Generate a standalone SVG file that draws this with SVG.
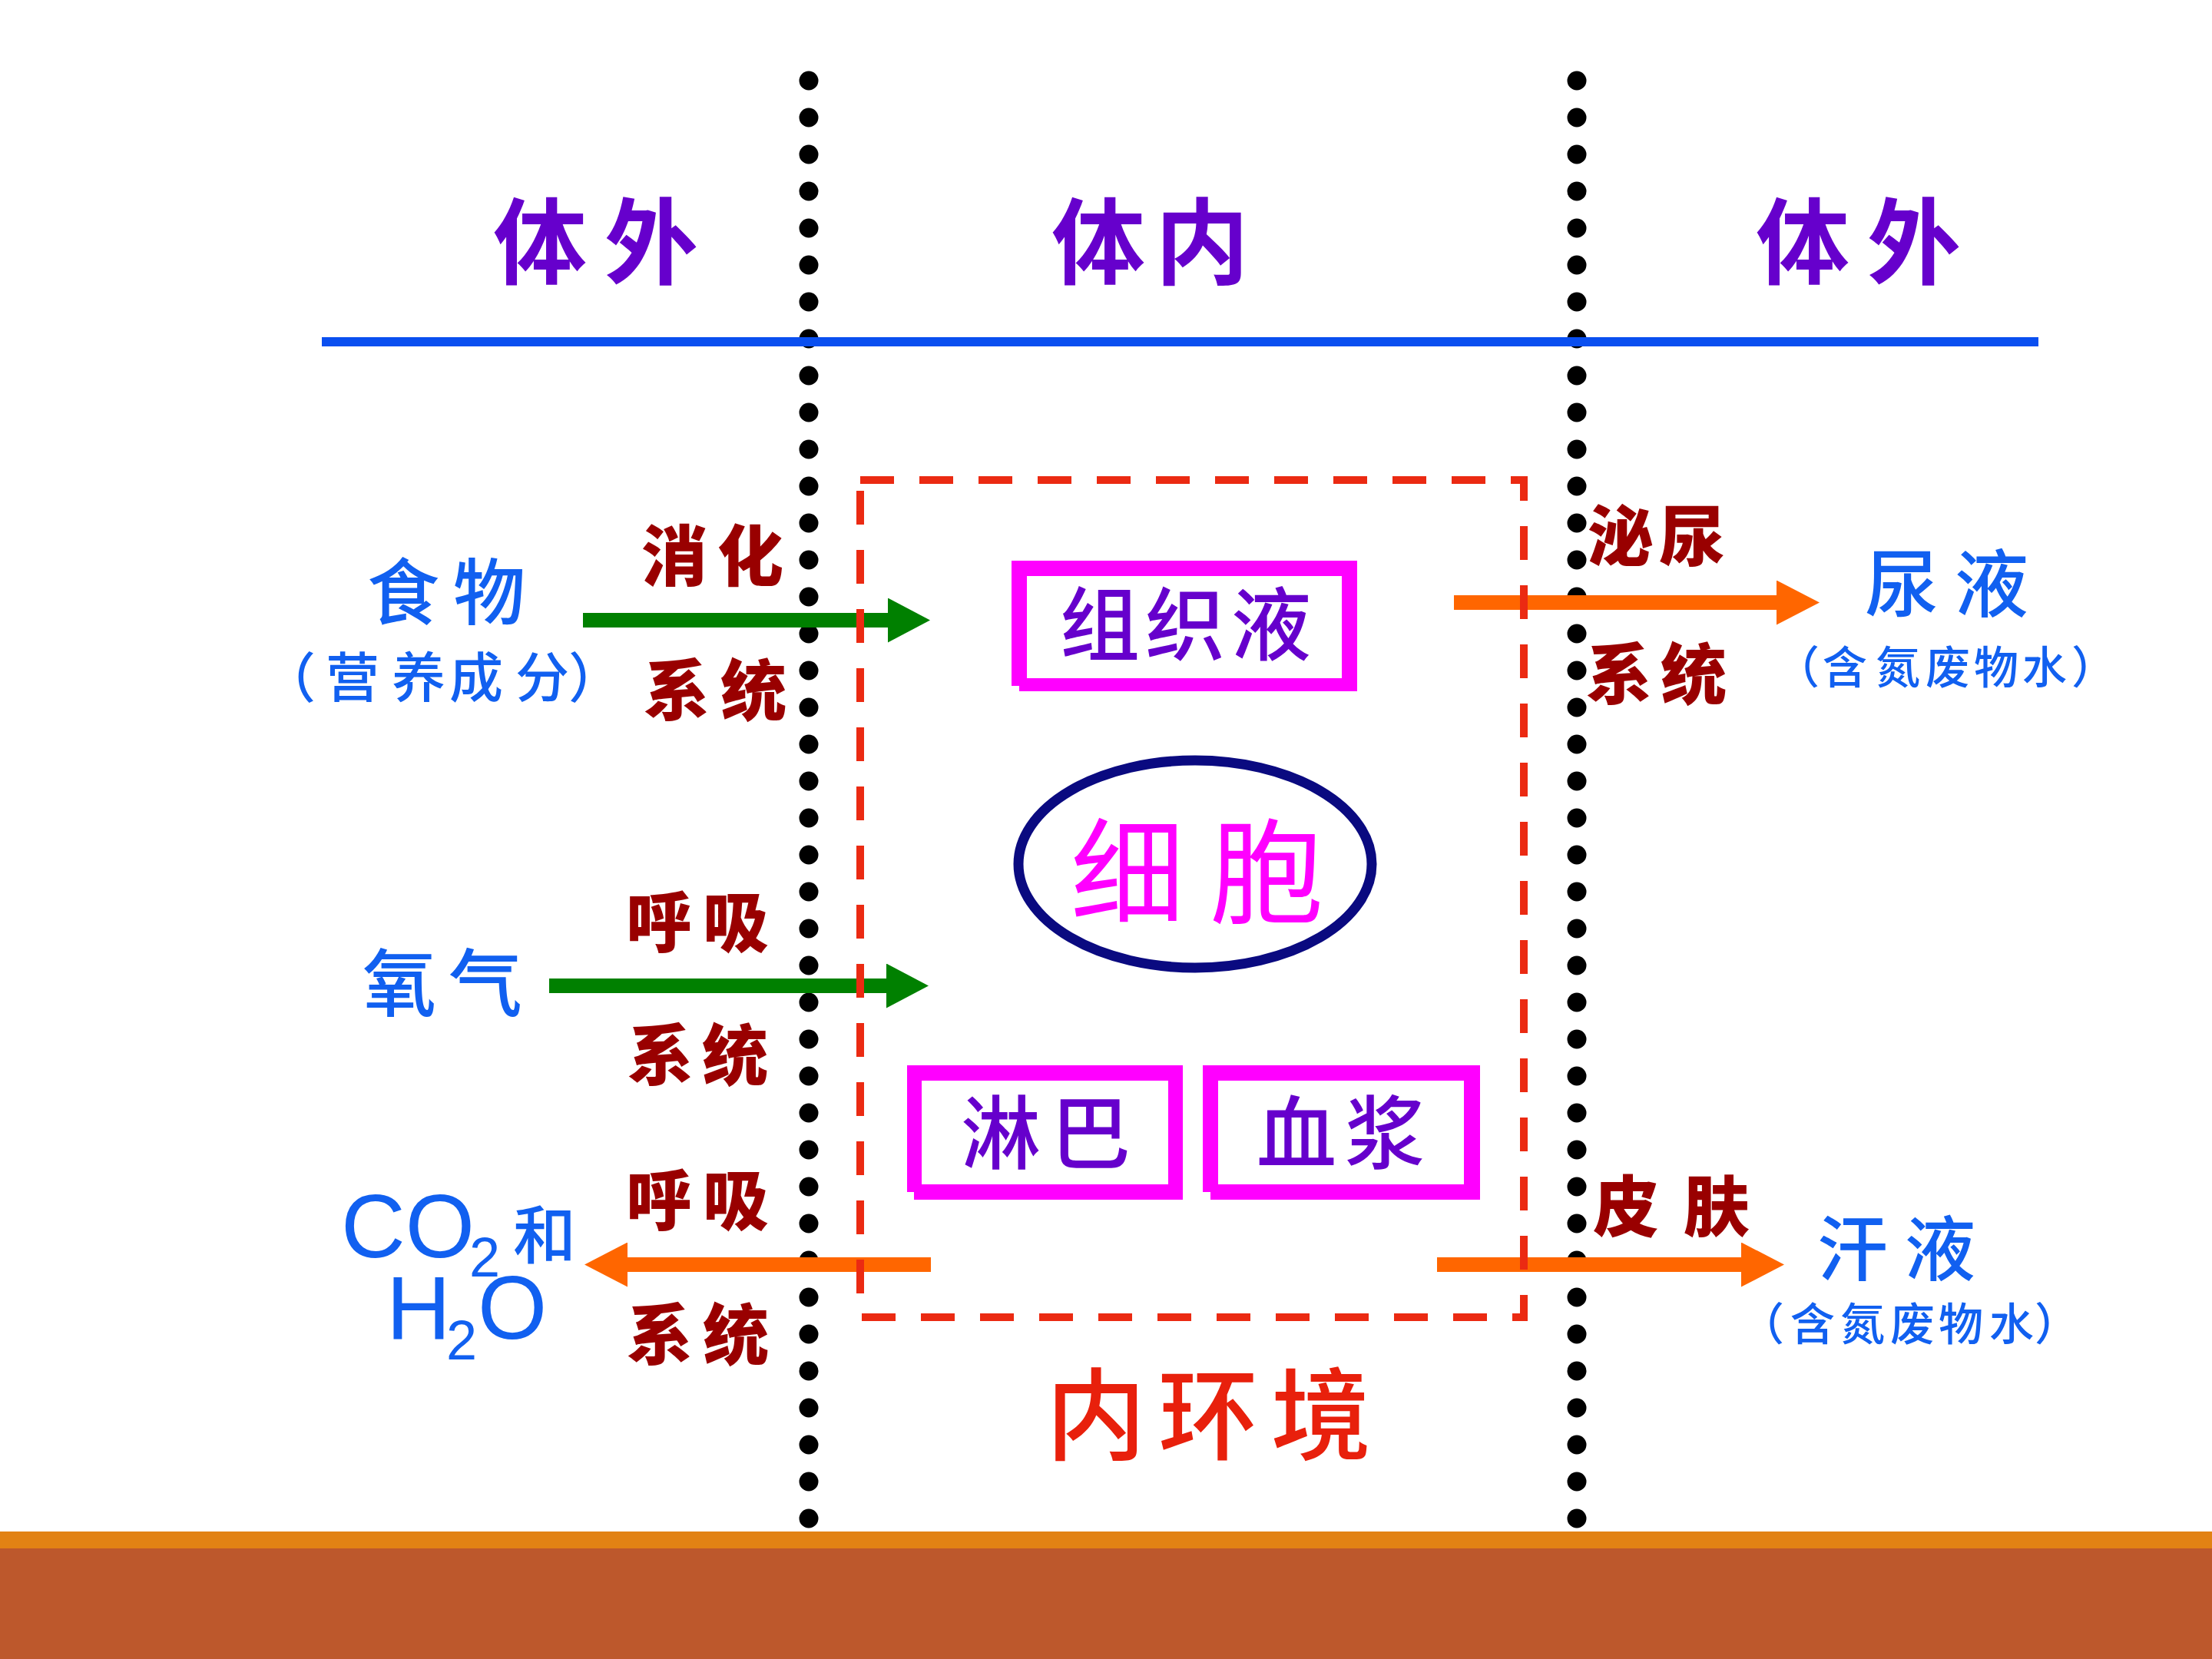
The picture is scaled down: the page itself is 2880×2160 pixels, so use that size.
<svg xmlns="http://www.w3.org/2000/svg" width="2880" height="2160" viewBox="0 0 2880 2160">
<defs>
<style>
.title{font-family:"Noto Sans CJK SC",sans-serif;font-weight:700;font-size:122px;fill:#6600CC;text-anchor:middle}
.sys{font-family:"Noto Sans CJK SC",sans-serif;font-weight:900;font-size:86px;fill:#990000;text-anchor:middle}
.blue{font-family:"Noto Sans CJK SC",sans-serif;font-weight:500;fill:#1160F0;text-anchor:middle}
.chem{font-family:"Liberation Sans",Arial,sans-serif;fill:#1160F0}
.box{font-family:"Noto Sans CJK SC",sans-serif;font-weight:500;font-size:104px;fill:#6600CC;text-anchor:middle}
.frame{fill:#FF00FF}
.inner{fill:#FFFFFF}
.dots{stroke:#000;stroke-width:25;stroke-linecap:round;stroke-dasharray:0 48;fill:none}
.green{stroke:#008000;stroke-width:19;fill:none}
.orange{stroke:#FF6600;stroke-width:19;fill:none}
</style>
<marker id="hg" markerUnits="userSpaceOnUse" markerWidth="56" markerHeight="58" viewBox="0 0 56 58" refX="1" refY="29" orient="auto">
<path d="M0,0 L55,29 L0,58 Z" fill="#008000"/>
</marker>
<marker id="ho" markerUnits="userSpaceOnUse" markerWidth="58" markerHeight="58" viewBox="0 0 58 58" refX="1" refY="29" orient="auto">
<path d="M0,0 L56,29 L0,58 Z" fill="#FF6600"/>
</marker>
</defs>
<rect width="2880" height="2160" fill="#FFFFFF"/>
<!-- bottom band -->
<rect x="0" y="1994" width="2880" height="22" fill="#E28214"/>
<rect x="0" y="2016" width="2880" height="144" fill="#BD582C"/>

<!-- boundaries -->
<g id="boundaries">
<line class="dots" x1="1053" y1="105" x2="1053" y2="1978"/>
<line class="dots" x1="2053" y1="105" x2="2053" y2="1978"/>
<line x1="419" y1="445" x2="2654" y2="445" stroke="#0A4FF0" stroke-width="12"/>
</g>

<g id="titles">
<text class="title" x="703 848" y="360">体外</text>
<text class="title" x="1430 1565" y="360">体内</text>
<text class="title" x="2347 2492" y="360">体外</text>
</g>

<!-- connectors -->
<g id="connectors">
<line class="green" x1="759" y1="807.5" x2="1157" y2="807.5" marker-end="url(#hg)"/>
<line class="green" x1="715" y1="1283.5" x2="1155" y2="1283.5" marker-end="url(#hg)"/>
<line class="orange" x1="1893" y1="784.5" x2="2314" y2="784.5" marker-end="url(#ho)"/>
<line class="orange" x1="1212" y1="1646.5" x2="816" y2="1646.5" marker-end="url(#ho)"/>
<line class="orange" x1="1871" y1="1646.5" x2="2268" y2="1646.5" marker-end="url(#ho)"/>
</g>

<g id="internal-environment">
<rect x="1120" y="625" width="864" height="1090" fill="none" stroke="#EB2A12" stroke-width="10" stroke-dasharray="44 33"/>
<text x="1427 1573 1720" y="1890" font-family="Noto Sans CJK SC, sans-serif" font-size="130" font-weight="500" fill="#E8200C" text-anchor="middle">内环境</text>
</g>

<g id="tissue-fluid">
<path class="frame" d="M1317,730 H1767 V900 H1327 V893 H1317 Z"/>
<rect class="inner" x="1337" y="750" width="410" height="133"/>
<text class="box" x="1432 1543 1655" y="852">组织液</text>
</g>

<g id="cell">
<ellipse cx="1556" cy="1125" rx="230" ry="135" fill="#FFFFFF" stroke="#0A0A80" stroke-width="13"/>
<text x="1468 1649" y="1190" font-family="Noto Sans CJK SC, sans-serif" font-size="148" font-weight="400" fill="#FF00FF" text-anchor="middle">细胞</text>
</g>

<g id="lymph">
<path class="frame" d="M1181,1387 H1540 V1562 H1190 V1552 H1181 Z"/>
<rect class="inner" x="1200" y="1407" width="321" height="135"/>
<text class="box" x="1303 1420" y="1514">淋巴</text>
</g>

<g id="plasma">
<path class="frame" d="M1566,1387 H1927 V1562 H1576 V1552 H1566 Z"/>
<rect class="inner" x="1586" y="1407" width="320" height="135"/>
<text class="box" x="1688 1803" y="1514">血浆</text>
</g>

<g id="food">
<text class="blue" x="525 637" y="806" font-size="94">食物</text>
<text class="blue" x="376 459 545 620 706 775" y="908" font-size="70">（营养成分）</text>
</g>

<g id="oxygen">
<text class="blue" x="520 632" y="1315" font-size="96">氧气</text>
</g>

<g id="co2-h2o">
<text class="chem" font-size="116"><tspan x="444" y="1637">CO</tspan><tspan x="611" y="1662" font-size="72">2</tspan><tspan x="668" y="1638" font-size="82" font-family="Noto Sans CJK SC, sans-serif" font-weight="500">和</tspan><tspan x="503" y="1743">H</tspan><tspan x="581" y="1770" font-size="72">2</tspan><tspan x="622" y="1743">O</tspan></text>
</g>

<g id="urine">
<text class="blue" x="2476 2593" y="795" font-size="96">尿液</text>
<text class="blue" x="2340 2402 2471 2536 2599 2662 2726" y="890" font-size="58">（含氮废物水）</text>
</g>

<g id="sweat">
<text class="blue" x="2412 2526" y="1660" font-size="92">汗液</text>
<text class="blue" x="2294 2360 2425 2490 2553 2619 2678" y="1745" font-size="58">（含氮废物水）</text>
</g>

<g id="system-labels">
<text class="sys" x="878 977" y="756">消化</text>
<text class="sys" x="881 981" y="931">系统</text>
<text class="sys" x="858 958" y="1233">呼吸</text>
<text class="sys" x="860 957" y="1406">系统</text>
<text class="sys" x="858 958" y="1595">呼吸</text>
<text class="sys" x="859 958" y="1770">系统</text>
<text class="sys" x="2110 2203" y="730">泌尿</text>
<text class="sys" x="2108 2205" y="910">系统</text>
<text class="sys" x="2117 2235" y="1603">皮肤</text>
</g>
</svg>
